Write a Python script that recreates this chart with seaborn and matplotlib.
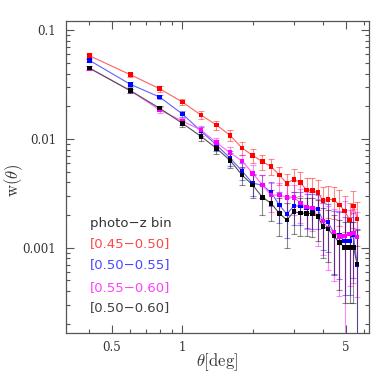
import numpy as np
import pandas as pd
import matplotlib
matplotlib.use("Agg")
import matplotlib.pyplot as plt
import seaborn as sns
from matplotlib.ticker import FixedLocator, FuncFormatter, NullFormatter, LogLocator

# ---- data ----
theta = [0.4, 0.6, 0.8, 1.0, 1.2, 1.4, 1.6, 1.8, 2.0, 2.2, 2.4, 2.6, 2.8,
         3.0, 3.2, 3.4, 3.6, 3.8, 4.0, 4.2, 4.45, 4.7, 4.95, 5.2, 5.4, 5.6]
bins = ["[0.45\u22120.50]", "[0.50\u22120.55]", "[0.55\u22120.60]", "[0.50\u22120.60]"]

w_red = [0.0584, 0.0390, 0.0290, 0.0219, 0.01663, 0.01345, 0.01081, 0.00826, 0.00705,
         0.00618, 0.00558, 0.00465, 0.00391, 0.00426, 0.00396, 0.00340, 0.00335, 0.00321,
         0.00271, 0.00279, 0.00275, 0.00247, 0.00218, 0.00180, 0.00242, 0.00184]
e_red = [0.0023, 0.0019, 0.0017, 0.0015, 0.0015, 0.0013, 0.0012, 0.0011, 0.0010,
         0.0010, 0.00095, 0.0009, 0.0009, 0.0010, 0.0010, 0.0010, 0.0010, 0.0010,
         0.0009, 0.0009, 0.0009, 0.0009, 0.0008, 0.0008, 0.0009, 0.0008]

w_blue = [0.0530, 0.0318, 0.0243, 0.0170, 0.01186, 0.00880, 0.00668, 0.00508, 0.00391,
          0.00377, 0.00321, 0.00247, 0.00204, 0.00242, 0.00242, 0.00232, 0.00229, 0.00227,
          0.00176, 0.00172, 0.00137, 0.00131, 0.00115, 0.00115, 0.00131, 0.000693]
e_blue = [0.0020, 0.0015, 0.0012, 0.0012, 0.0011, 0.0010, 0.0010, 0.0009, 0.0009,
          0.0009, 0.0008, 0.0008, 0.0008, 0.0008, 0.0008, 0.0008, 0.0008, 0.0008,
          0.0008, 0.0008, 0.0008, 0.0008, 0.00078, 0.00078, 0.00078, 0.00078]

w_mag = [0.0447, 0.0278, 0.0185, 0.01464, 0.01210, 0.00925, 0.00748, 0.00627, 0.00484,
         0.00377, 0.00305, 0.00305, 0.00291, 0.00291, 0.00258, 0.00237, 0.00232, 0.00193,
         0.00176, 0.00152, 0.00139, 0.00126, 0.00128, 0.00134, 0.00137, 0.00125]
e_mag = [0.0018, 0.0013, 0.0012, 0.0011, 0.0011, 0.0010, 0.0010, 0.0009, 0.0009,
         0.0009, 0.0009, 0.0009, 0.0009, 0.0009, 0.0009, 0.0009, 0.0009, 0.0009,
         0.0009, 0.0009, 0.0009, 0.0009, 0.0014, 0.0009, 0.0009, 0.0009]

w_blk = [0.0450, 0.0278, 0.0192, 0.01394, 0.01059, 0.00821, 0.00637, 0.00466, 0.00377,
         0.00291, 0.00256, 0.00207, 0.00180, 0.00214, 0.00208, 0.00207, 0.00206, 0.00194,
         0.00156, 0.00149, 0.00128, 0.00111, 0.00101, 0.00101, 0.00101, 0.000708]
e_blk = [0.0017, 0.0013, 0.0011, 0.0011, 0.0010, 0.0010, 0.0010, 0.0009, 0.0009,
         0.0009, 0.0008, 0.0008, 0.0008, 0.0008, 0.0008, 0.0008, 0.0008, 0.0008,
         0.00075, 0.00075, 0.00072, 0.0007, 0.0007, 0.0007, 0.0007, 0.00075]

x_major = [0.5, 1, 5]
x_minor = [0.4, 0.6, 0.7, 0.8, 0.9, 2, 3, 4, 6]
y_major = [0.001, 0.01, 0.1]

# ---- table ----
series = [(bins[0], w_red, e_red), (bins[1], w_blue, e_blue),
          (bins[2], w_mag, e_mag), (bins[3], w_blk, e_blk)]
frames = []
for name, w, e in series:
    frames.append(pd.DataFrame({"theta": theta, "w": w, "err": e, "bin": name}))
df = pd.concat(frames, ignore_index=True)

mark_col = {bins[0]: "#ff0000", bins[1]: "#0000ff", bins[2]: "#ff00ff", bins[3]: "#000000"}
line_col = {bins[0]: "#ff6060", bins[1]: "#6060ff", bins[2]: "#ff60ff", bins[3]: "#505050"}
text_col = {bins[0]: "#ff4848", bins[1]: "#4848ff", bins[2]: "#ff40ff", bins[3]: "#404040"}

sns.set_style("ticks")
plt.rcParams["mathtext.fontset"] = "cm"

fig = plt.figure(figsize=(3.74, 3.74), dpi=100)
ax = fig.add_axes([0.1757, 0.1096, 0.8117, 0.8351])
ax.set_xscale("log")
ax.set_yscale("log")

for name in bins:
    sub = df[df["bin"] == name]
    ax.errorbar(sub["theta"], sub["w"], yerr=sub["err"], fmt="none",
                ecolor=mark_col[name], alpha=0.45, elinewidth=0.8,
                capsize=2.2, capthick=0.8, zorder=1)

sns.lineplot(data=df, x="theta", y="w", hue="bin", palette=line_col,
             estimator=None, sort=False, linewidth=0.8, legend=False, ax=ax, zorder=2)
sns.scatterplot(data=df, x="theta", y="w", hue="bin", palette=mark_col,
                marker="s", s=11, linewidth=0, legend=False, ax=ax, zorder=3)

ax.set_xlim(0.317, 6.31)
ax.set_ylim(1.64e-4, 0.1226)

ax.xaxis.set_major_locator(FixedLocator(x_major))
ax.xaxis.set_minor_locator(FixedLocator(x_minor))
ax.xaxis.set_major_formatter(FuncFormatter(lambda v, p: f"{v:g}"))
ax.xaxis.set_minor_formatter(NullFormatter())
ax.yaxis.set_major_locator(FixedLocator(y_major))
ax.yaxis.set_minor_locator(LogLocator(base=10, subs=np.arange(2, 10)))
ax.yaxis.set_major_formatter(FuncFormatter(lambda v, p: f"{v:g}"))
ax.yaxis.set_minor_formatter(NullFormatter())

edge = "#555555"
for s in ax.spines.values():
    s.set_color(edge)
    s.set_linewidth(0.9)
ax.tick_params(which="both", direction="in", top=True, right=True, color=edge,
               width=0.8, labelcolor="#333333")
ax.tick_params(which="major", length=5.5, labelsize=8.5)
ax.tick_params(axis="x", which="major", pad=6)
ax.tick_params(axis="y", which="major", pad=7)
ax.tick_params(which="minor", length=3)
for lab in ax.get_xticklabels() + ax.get_yticklabels():
    lab.set_family("DejaVu Serif")

ax.set_xlabel(r"$\theta[\mathrm{deg}]$", fontsize=12, color="#333333", va="center")
ax.xaxis.set_label_coords(0.497, -0.093)
ax.set_ylabel(r"$\mathrm{w}(\theta)$", fontsize=12, color="#333333", va="center")
ax.yaxis.set_label_coords(-0.172, 0.49)

ax.text(0.08, 0.352, "photo\u2212z bin", transform=ax.transAxes, fontsize=9.5,
        color="#333333", va="center", ha="left", family="DejaVu Sans")
ys = [0.288, 0.218, 0.147, 0.080]
for name, yy in zip(bins, ys):
    ax.text(0.08, yy, name, transform=ax.transAxes, fontsize=9.5,
            color=text_col[name], va="center", ha="left", family="DejaVu Sans")

fig.savefig("out.png", dpi=100)
